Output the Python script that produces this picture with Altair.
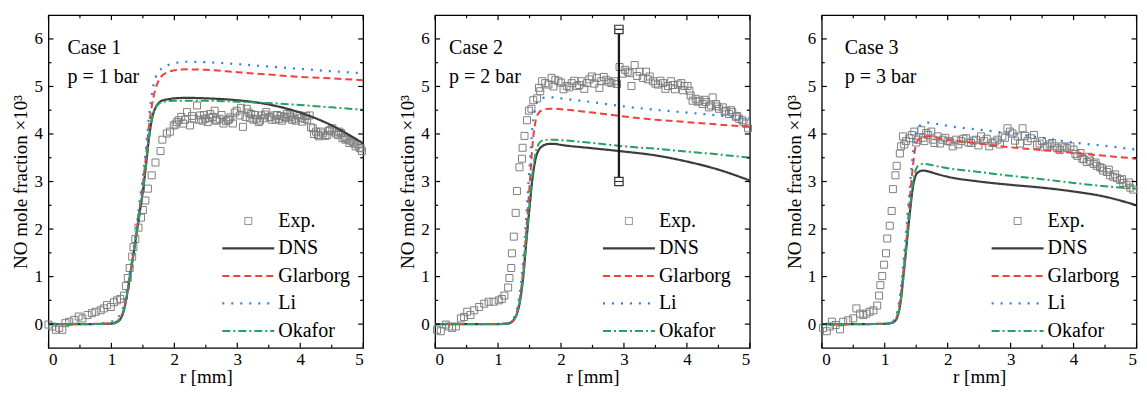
import altair as alt
import pandas as pd

FONT = "Liberation Serif"
W, H = 315, 333

MODELS = ["Exp.", "DNS", "Glarborg", "Li", "Okafor"]
COLORS = ["#808080", "#3d3d3d", "#f23f3f", "#2f7fe6", "#22a35c"]
DASHES = [[1, 0], [1, 0], [7, 4], [2, 7], [8, 3, 2, 3]]
WIDTHS = [1.0, 2.2, 2.0, 2.2, 2.0]
SQUARE = "M-0.7,-0.7H0.7V0.7H-0.7Z"
STROKE = "M-5.2,0H5.2"
SHAPES = [SQUARE, STROKE, STROKE, STROKE, STROKE]
CAP = "M-1,-1H1V1H-1ZM-1,0H1"

CASES = ["Case 1", "Case 2", "Case 3"]
PRESS = ["p = 1 bar", "p = 2 bar", "p = 3 bar"]

X_MAJOR = [0, 1, 2, 3, 4, 5]
X_MINOR = [0.5, 1.5, 2.5, 3.5, 4.5]
Y_MAJOR = [0, 1, 2, 3, 4, 5, 6]
Y_MINOR = [0.5, 1.5, 2.5, 3.5, 4.5, 5.5]

# ---------------- model curves ----------------
GRID1 = [0, 0.5, 0.9, 1.0, 1.1, 1.2, 1.3, 1.4, 1.45, 1.5, 1.55, 1.6, 1.65, 1.7, 1.75, 1.8, 1.9, 2.0, 2.2, 2.5, 3.0, 3.5, 4.0, 4.5, 5.0]
DNS1 = [0, 0, 0.005, 0.01, 0.05, 0.3, 1.05, 1.9, 2.35, 2.8, 3.35, 3.95, 4.35, 4.55, 4.65, 4.7, 4.73, 4.75, 4.76, 4.75, 4.71, 4.62, 4.45, 4.18, 3.8]
GLA1 = [0, 0, 0.01, 0.02, 0.07, 0.33, 1.05, 1.95, 2.45, 2.95, 3.55, 4.2, 4.65, 4.95, 5.12, 5.22, 5.3, 5.34, 5.36, 5.35, 5.3, 5.25, 5.2, 5.17, 5.13]
LI1 = [0, 0, 0.02, 0.05, 0.13, 0.42, 1.15, 2.05, 2.6, 3.1, 3.7, 4.4, 4.9, 5.18, 5.31, 5.38, 5.45, 5.49, 5.52, 5.51, 5.47, 5.42, 5.37, 5.32, 5.28]
OKA1 = [0, 0, 0.005, 0.01, 0.05, 0.3, 1.05, 1.9, 2.35, 2.8, 3.35, 3.95, 4.35, 4.55, 4.63, 4.67, 4.69, 4.7, 4.7, 4.7, 4.68, 4.65, 4.61, 4.56, 4.51]

GRID2 = [0, 0.5, 1.0, 1.1, 1.15, 1.2, 1.25, 1.3, 1.35, 1.4, 1.45, 1.5, 1.55, 1.6, 1.65, 1.7, 1.8, 1.9, 2.0, 2.5, 3.0, 3.5, 4.0, 4.5, 5.0]
DNS2 = [0, 0, 0, 0.005, 0.01, 0.03, 0.09, 0.22, 0.5, 1.0, 1.75, 2.45, 3.1, 3.5, 3.67, 3.74, 3.79, 3.79, 3.77, 3.7, 3.63, 3.55, 3.42, 3.25, 3.02]
GLA2 = [0, 0, 0, 0.01, 0.015, 0.035, 0.1, 0.25, 0.58, 1.15, 2.0, 2.9, 3.8, 4.3, 4.45, 4.5, 4.53, 4.53, 4.52, 4.45, 4.37, 4.3, 4.25, 4.2, 4.15]
LI2 = [0, 0, 0.005, 0.015, 0.02, 0.045, 0.13, 0.32, 0.7, 1.35, 2.3, 3.3, 4.2, 4.6, 4.72, 4.76, 4.77, 4.77, 4.75, 4.67, 4.58, 4.51, 4.45, 4.39, 4.33]
OKA2 = [0, 0, 0, 0.005, 0.01, 0.03, 0.09, 0.22, 0.5, 1.0, 1.75, 2.5, 3.2, 3.62, 3.8, 3.86, 3.88, 3.88, 3.87, 3.81, 3.74, 3.69, 3.63, 3.57, 3.5]

GRID3 = [0, 0.5, 1.0, 1.05, 1.1, 1.15, 1.2, 1.25, 1.3, 1.35, 1.4, 1.45, 1.5, 1.55, 1.6, 1.7, 1.8, 2.0, 2.5, 3.0, 3.5, 4.0, 4.5, 5.0]
DNS3 = [0, 0, 0.005, 0.01, 0.02, 0.05, 0.15, 0.45, 1.05, 1.7, 2.35, 2.9, 3.15, 3.21, 3.23, 3.21, 3.17, 3.1, 3.0, 2.93, 2.87, 2.79, 2.68, 2.5]
GLA3 = [0, 0, 0.005, 0.012, 0.025, 0.065, 0.19, 0.55, 1.15, 1.85, 2.65, 3.35, 3.8, 3.9, 3.94, 3.95, 3.93, 3.88, 3.8, 3.72, 3.66, 3.6, 3.54, 3.48]
LI3 = [0, 0, 0.008, 0.016, 0.03, 0.09, 0.26, 0.68, 1.35, 2.1, 2.9, 3.6, 4.03, 4.16, 4.22, 4.24, 4.22, 4.17, 4.09, 4.01, 3.92, 3.82, 3.75, 3.67]
OKA3 = [0, 0, 0.005, 0.01, 0.02, 0.05, 0.15, 0.45, 1.05, 1.7, 2.4, 2.98, 3.27, 3.35, 3.37, 3.36, 3.33, 3.28, 3.2, 3.12, 3.05, 2.97, 2.9, 2.85]

# ---------------- experimental points ----------------
EXP1_R = [0.00, 0.06, 0.12, 0.17, 0.22, 0.27, 0.33, 0.41, 0.48, 0.54,
          0.62, 0.69, 0.75, 0.83, 0.88, 0.93, 0.99, 1.04, 1.09, 1.14,
          1.20, 1.23, 1.26, 1.29, 1.33, 1.35, 1.38, 1.43, 1.47, 1.50,
          1.54, 1.58, 1.64, 1.70, 1.78, 1.81, 1.88, 1.93, 1.99, 2.04,
          2.07, 2.11, 2.14, 2.20, 2.25, 2.31, 2.36, 2.41, 2.45, 2.49,
          2.53, 2.57, 2.61, 2.64, 2.68, 2.72, 2.78, 2.82, 2.85, 2.89,
          2.93, 2.99, 3.04, 3.09, 3.15, 3.18, 3.22, 3.26, 3.30, 3.34,
          3.38, 3.42, 3.46, 3.51, 3.55, 3.59, 3.63, 3.67, 3.71, 3.75,
          3.79, 3.83, 3.87, 3.91, 3.95, 3.99, 4.03, 4.07, 4.11, 4.15,
          4.20, 4.25, 4.30, 4.36, 4.43, 4.47, 4.51, 4.57, 4.62, 4.67,
          4.72, 4.78, 4.83, 4.88, 4.94, 4.98,
          2.02, 2.17, 2.28, 2.39, 2.47, 2.55, 2.66, 2.75, 2.87, 2.96,
          3.06, 3.13, 3.20, 3.28, 3.36, 3.44, 3.53, 3.61, 3.69, 3.77,
          3.85, 3.93, 4.01, 4.09, 4.17, 4.22, 4.28, 4.33, 4.40, 4.45,
          4.54, 4.60, 4.65, 4.70, 4.75, 4.80, 4.86, 4.91, 4.96]
EXP1_V = [-0.01, -0.05, -0.12, -0.08, -0.12, 0.02, 0.05, 0.09, 0.16, 0.12,
          0.19, 0.23, 0.26, 0.29, 0.33, 0.40, 0.36, 0.46, 0.50, 0.53,
          0.60, 0.80, 0.97, 1.18, 1.42, 1.62, 1.79, 2.03, 2.24, 2.40,
          2.60, 2.85, 3.13, 3.40, 3.64, 3.88, 4.01, 4.05, 4.18, 4.25,
          4.29, 4.36, 4.22, 4.46, 4.18, 4.32, 4.60, 4.39, 4.28, 4.32,
          4.25, 4.42, 4.36, 4.49, 4.30, 4.32, 4.22, 4.27, 4.29, 4.35,
          4.22, 4.49, 4.39, 4.15, 4.53, 4.45, 4.42, 4.30, 4.32, 4.25,
          4.39, 4.33, 4.46, 4.36, 4.30, 4.39, 4.40, 4.32, 4.28, 4.36,
          4.42, 4.39, 4.30, 4.32, 4.40, 4.39, 4.26, 4.32, 4.30, 4.39,
          4.12, 4.05, 3.95, 4.01, 3.98, 4.08, 4.12, 4.01, 4.05, 3.91,
          3.88, 3.81, 3.84, 3.74, 3.71, 3.64,
          4.20, 4.30, 4.38, 4.30, 4.40, 4.34, 4.28, 4.40, 4.31, 4.45,
          4.55, 4.36, 4.33, 4.40, 4.28, 4.41, 4.35, 4.30, 4.38, 4.33,
          4.36, 4.28, 4.34, 4.38, 4.14, 4.00, 3.98, 4.05, 3.96, 4.06,
          4.05, 3.98, 4.02, 3.94, 3.90, 3.86, 3.80, 3.78, 3.70]

EXP2_R = [0.03, 0.09, 0.17, 0.22, 0.27, 0.33, 0.41, 0.46, 0.51, 0.56,
          0.62, 0.70, 0.78, 0.85, 0.93, 1.01, 1.06, 1.10, 1.16, 1.18,
          1.21, 1.22, 1.25, 1.28, 1.30, 1.34, 1.38, 1.39, 1.42, 1.46,
          1.49, 1.53, 1.56, 1.62, 1.65, 1.70, 1.75, 1.80, 1.85, 1.91,
          1.96, 2.04, 2.09, 2.17, 2.25, 2.33, 2.41, 2.49, 2.57, 2.64,
          2.72, 2.80, 2.85, 2.93, 2.98, 3.06, 3.12, 3.17, 3.25, 3.30,
          3.35, 3.41, 3.46, 3.54, 3.62, 3.70, 3.75, 3.81, 3.86, 3.91,
          3.96, 4.01, 4.04, 4.09, 4.14, 4.20, 4.25, 4.30, 4.35, 4.41,
          4.46, 4.51, 4.57, 4.62, 4.67, 4.72, 4.78, 4.83, 4.88, 4.94,
          4.97,
          1.67, 1.88, 2.00, 2.13, 2.21, 2.29, 2.37, 2.45, 2.53, 2.61,
          2.68, 2.76, 2.89, 3.02, 3.09, 3.21, 3.38, 3.50, 3.58, 3.66,
          3.78, 3.94, 4.06, 4.17, 4.28, 4.38, 4.48, 4.60, 4.70, 4.80,
          4.90]
EXP2_V = [-0.12, -0.15, -0.01, -0.05, -0.08, -0.05, 0.12, 0.15, 0.26, 0.19,
          0.29, 0.36, 0.43, 0.47, 0.47, 0.50, 0.53, 0.60, 0.77, 0.97,
          1.18, 1.49, 1.84, 2.34, 2.80, 3.30, 3.48, 3.71, 3.96, 4.29,
          4.49, 4.53, 4.71, 4.75, 4.97, 5.11, 5.07, 5.04, 5.18, 5.14,
          5.11, 4.94, 5.01, 5.07, 5.01, 5.11, 5.07, 5.21, 5.18, 5.11,
          5.14, 5.07, 5.11, 5.41, 5.27, 5.31, 5.01, 5.45, 5.31, 5.18,
          5.31, 5.21, 5.11, 5.04, 5.07, 5.01, 5.11, 4.94, 5.04, 5.07,
          5.01, 5.01, 4.91, 4.70, 4.74, 4.70, 4.63, 4.67, 4.56, 4.77,
          4.63, 4.53, 4.56, 4.49, 4.42, 4.46, 4.36, 4.32, 4.29, 4.22,
          4.12,
          4.90, 5.00, 5.08, 4.98, 5.12, 5.03, 4.95, 5.15, 5.06, 4.97,
          5.20, 5.10, 5.05, 5.35, 5.28, 5.22, 5.15, 5.06, 5.12, 4.95,
          5.03, 4.92, 4.81, 4.68, 4.72, 4.60, 4.58, 4.47, 4.50, 4.38,
          4.25]

EXP3_R = [0.02, 0.08, 0.13, 0.16, 0.22, 0.29, 0.34, 0.42, 0.50, 0.55,
          0.61, 0.66, 0.71, 0.76, 0.82, 0.88, 0.91, 0.93, 0.96, 0.99,
          1.02, 1.04, 1.08, 1.11, 1.13, 1.17, 1.19, 1.24, 1.26, 1.29,
          1.34, 1.39, 1.47, 1.53, 1.58, 1.63, 1.69, 1.74, 1.79, 1.84,
          1.92, 2.00, 2.08, 2.13, 2.21, 2.29, 2.37, 2.45, 2.53, 2.58,
          2.66, 2.71, 2.79, 2.87, 2.95, 3.03, 3.11, 3.19, 3.27, 3.32,
          3.37, 3.42, 3.50, 3.58, 3.66, 3.74, 3.82, 3.90, 3.95, 4.00,
          4.06, 4.11, 4.16, 4.21, 4.26, 4.32, 4.37, 4.42, 4.47, 4.53,
          4.58, 4.63, 4.69, 4.74, 4.79, 4.84, 4.90,
          1.31, 1.43, 1.50, 1.61, 1.66, 1.77, 1.88, 1.96, 2.04, 2.17,
          2.25, 2.33, 2.41, 2.49, 2.62, 2.75, 2.83, 2.91, 2.99, 3.07,
          3.15, 3.23, 3.46, 3.54, 3.62, 3.70, 3.78, 3.86, 4.03, 4.14,
          4.24, 4.35, 4.45, 4.56, 4.66, 4.77, 4.88, 4.95]
EXP3_V = [-0.08, -0.15, -0.05, 0.05, -0.02, -0.11, 0.05, 0.08, 0.12, 0.33,
          0.22, 0.19, 0.22, 0.26, 0.29, 0.39, 0.60, 0.82, 1.01, 1.25,
          1.49, 1.80, 2.07, 2.38, 2.84, 3.13, 3.33, 3.59, 3.74, 3.95,
          3.85, 3.91, 4.05, 3.88, 4.08, 3.85, 3.98, 4.05, 3.81, 3.95,
          3.88, 3.85, 3.74, 3.88, 3.85, 3.91, 3.81, 3.88, 3.95, 3.85,
          3.74, 3.81, 3.88, 3.95, 4.12, 4.01, 3.95, 4.12, 3.85, 3.91,
          3.98, 3.77, 3.85, 3.74, 3.81, 3.70, 3.74, 3.70, 3.74, 3.67,
          3.54, 3.60, 3.47, 3.41, 3.44, 3.37, 3.33, 3.30, 3.23, 3.20,
          3.13, 3.10, 3.07, 3.03, 2.97, 2.93, 2.87,
          3.78, 3.98, 3.82, 3.92, 4.02, 3.88, 3.80, 3.92, 3.84, 3.78,
          3.90, 3.82, 3.86, 3.76, 3.90, 3.84, 3.78, 3.92, 4.05, 3.86,
          3.80, 3.96, 3.80, 3.72, 3.78, 3.74, 3.66, 3.72, 3.58, 3.48,
          3.52, 3.40, 3.28, 3.25, 3.15, 3.05, 2.98, 2.83]

# error bar in case 2
ERR_R = [2.92]
ERR_LO = [3.0]
ERR_HI = [6.2]

GRIDS = [GRID1, GRID2, GRID3]
CURVES = [
    {"DNS": DNS1, "Glarborg": GLA1, "Li": LI1, "Okafor": OKA1},
    {"DNS": DNS2, "Glarborg": GLA2, "Li": LI2, "Okafor": OKA2},
    {"DNS": DNS3, "Glarborg": GLA3, "Li": LI3, "Okafor": OKA3},
]
EXPS = [(EXP1_R, EXP1_V), (EXP2_R, EXP2_V), (EXP3_R, EXP3_V)]

CASE_X = [19, 14, 23]
LEG_X = [190, 184, 186]
LEG_Y = 196


def panel(k):
    grid = GRIDS[k]
    rows = []
    for m in ["DNS", "Glarborg", "Li", "Okafor"]:
        for r, v in zip(grid, CURVES[k][m]):
            rows.append({"r": r, "v": v, "model": m})
    line_df = pd.DataFrame(rows)
    er, ev = EXPS[k]
    exp_df = pd.DataFrame({"r": er, "v": ev, "model": ["Exp."] * len(er)})

    xs = alt.Scale(domain=[0, 5], nice=False, zero=False)
    ys = alt.Scale(domain=[-0.5, 6.5], nice=False, zero=False)
    leg = alt.Legend(orient="none", legendX=LEG_X[k], legendY=LEG_Y, title=None,
                     symbolSize=100, symbolStrokeWidth=2, labelFont=FONT,
                     labelFontSize=20, labelColor="black", labelOffset=20,
                     rowPadding=7.5, padding=0, labelLimit=200)
    color = alt.Color("model:N", scale=alt.Scale(domain=MODELS, range=COLORS), legend=leg)
    shape = alt.Shape("model:N", scale=alt.Scale(domain=MODELS, range=SHAPES), legend=leg)
    dash = alt.StrokeDash("model:N", scale=alt.Scale(domain=MODELS, range=DASHES), legend=leg)
    swid = alt.StrokeWidth("model:N", scale=alt.Scale(type="ordinal", domain=MODELS, range=WIDTHS),
                           legend=leg)

    ax_x = alt.Axis(values=X_MAJOR, title="r [mm]", format="d", tickSize=0, domain=False,
                    grid=False, labelPadding=4, titlePadding=0)
    ax_y = alt.Axis(values=Y_MAJOR, title="NO mole fraction ×10³", format="d", tickSize=0,
                    domain=False, grid=False, labelPadding=6, titlePadding=3)

    def X(field="r"):
        return alt.X(field + ":Q", scale=xs, axis=ax_x, title="r [mm]")

    def Y(field="v"):
        return alt.Y(field + ":Q", scale=ys, axis=ax_y, title="NO mole fraction ×10³")

    pts = alt.Chart(exp_df).mark_point(size=100, filled=False, opacity=1).encode(
        x=X(), y=Y(), color=color, shape=shape, strokeWidth=swid)

    lines = alt.Chart(line_df).mark_line(interpolate="monotone").encode(
        x=X(), y=Y(), color=color, strokeDash=dash, strokeWidth=swid)

    def xt(vals, length, top):
        d = pd.DataFrame({"r": vals})
        return alt.Chart(d).mark_rule(color="black", strokeWidth=1.2).encode(
            x=X(),
            y=alt.value(0 if top else H), y2=alt.value(length if top else H - length))

    def yt(vals, length, right):
        d = pd.DataFrame({"v": vals})
        return alt.Chart(d).mark_rule(color="black", strokeWidth=1.2).encode(
            y=Y(),
            x=alt.value(W if right else 0), x2=alt.value(W - length if right else length))

    ticks = [xt(X_MAJOR, 5, False), xt(X_MINOR, 3, False), xt(X_MAJOR, 5, True), xt(X_MINOR, 3, True),
             yt(Y_MAJOR, 5, False), yt(Y_MINOR, 3, False), yt(Y_MAJOR, 5, True), yt(Y_MINOR, 3, True)]

    t1 = alt.Chart(pd.DataFrame({"t": [CASES[k]]})).mark_text(
        align="left", baseline="alphabetic", font=FONT, fontSize=20, color="black").encode(
        x=alt.value(CASE_X[k]), y=alt.value(39), text="t:N")
    t2 = alt.Chart(pd.DataFrame({"t": [PRESS[k]]})).mark_text(
        align="left", baseline="alphabetic", font=FONT, fontSize=20, color="black").encode(
        x=alt.value(CASE_X[k]), y=alt.value(68), text="t:N")

    layers = [pts, lines] + ticks + [t1, t2]
    if k == 1:
        edf = pd.DataFrame({"r": ERR_R, "lo": ERR_LO, "hi": ERR_HI})
        cdf = pd.DataFrame({"r": ERR_R * 2, "v": ERR_LO + ERR_HI})
        rule = alt.Chart(edf).mark_rule(color="#1a1a1a", strokeWidth=2.3).encode(
            x=X(), y=Y("lo"), y2="hi:Q")
        caps = alt.Chart(cdf).mark_point(shape=CAP, size=70, filled=True, fill="white",
                                         stroke="#333333", strokeWidth=1.2, opacity=1).encode(
            x=X(), y=Y())
        layers += [rule, caps]
    return alt.layer(*layers).properties(width=W, height=H)


chart = alt.hconcat(panel(0), panel(1), panel(2), spacing=72, bounds="flush").resolve_scale(
    color="independent", shape="independent", strokeDash="independent", strokeWidth="independent"
).resolve_legend(
    color="independent", shape="independent", strokeDash="independent", strokeWidth="independent"
).properties(
    padding={"left": 2.5, "top": 5, "right": -3.5, "bottom": 0}
).configure_view(
    stroke="black", strokeWidth=1.3
).configure_axis(
    labelFont=FONT, labelFontSize=17, labelColor="black",
    titleFont=FONT, titleFontSize=19, titleFontWeight="normal", titleColor="black"
)

chart.save("out.html", embed_options={"renderer": "svg", "actions": False})
